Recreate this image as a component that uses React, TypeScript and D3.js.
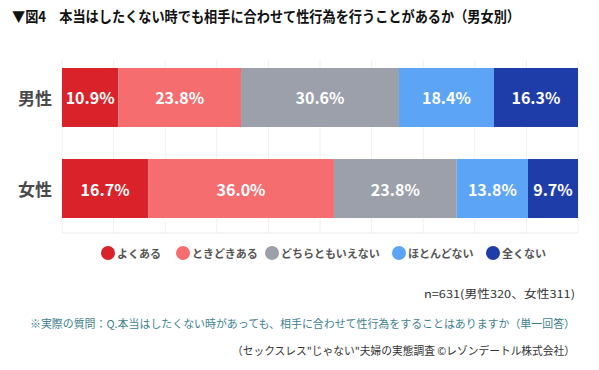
import React from "react";
import * as d3 from "d3";

const categories = ["男性", "女性"];
const seriesNames = ["よくある", "ときどきある", "どちらともいえない", "ほとんどない", "全くない"];
const maleValues = [10.9, 23.8, 30.6, 18.4, 16.3];
const femaleValues = [16.7, 36.0, 23.8, 13.8, 9.7];
const colors = ["#d92229", "#f56d6f", "#9ca0aa", "#5ba4f6", "#1f3da9"];
const gridTicks = [0, 10, 20, 30, 40, 50, 60, 70, 80, 90, 100];

const title = "▼図4　本当はしたくない時でも相手に合わせて性行為を行うことがあるか（男女別）";
const nNote = "n=631(男性320、女性311)";
const qNote = "※実際の質問：Q.本当はしたくない時があっても、相手に合わせて性行為をすることはありますか（単一回答）";
const source = "（セックスレス\"じゃない\"夫婦の実態調査 ©レゾンデートル株式会社）";

const W = 599;
const H = 370;
const font = "'Noto Sans CJK JP', 'Noto Sans', sans-serif";

export default function App() {
  const x = d3.scaleLinear().domain([0, 100]).range([62, 578]);
  const y = d3.scaleBand().domain(categories).range([58.9, 227.1]).paddingInner(0.352).paddingOuter(0.1);
  const values = [maleValues, femaleValues];
  const stacks = values.map((vals) => {
    let acc = 0;
    return vals.map((v, i) => {
      const s = { x0: acc, x1: acc + v, v, i };
      acc += v;
      return s;
    });
  });
  const legendX = [108, 183, 272, 399, 493];
  return (
    <svg width={W} height={H} style={{ position: "absolute", left: 0, top: 0, background: "#fff" }}>
      <rect x={0} y={0} width={W} height={H} fill="#fff" />
      <text x={12} y={22} fontFamily={font} fontWeight={700} fontSize={14.5} fill="#111" textLength={508} lengthAdjust="spacingAndGlyphs">
        {title}
      </text>
      {gridTicks.map((t) => (
        <line key={t} x1={x(t)} x2={x(t)} y1={60} y2={233} stroke="#f0f0f0" strokeWidth={1} />
      ))}
      <line x1={62} x2={578} y1={233} y2={233} stroke="#ececec" strokeWidth={1} />
      {categories.map((c, ci) => (
        <g key={c}>
          <text x={35} y={y(c)! + y.bandwidth() / 2} textAnchor="middle" dominantBaseline="central" fontFamily={font} fontWeight={700} fontSize={17} fill="#4a4a4a">
            {c}
          </text>
          {stacks[ci].map((s) => (
            <g key={s.i}>
              <rect x={x(s.x0)} y={y(c)} width={x(s.x1) - x(s.x0)} height={y.bandwidth()} fill={colors[s.i]} />
              <text x={(x(s.x0) + x(s.x1)) / 2} y={y(c)! + y.bandwidth() / 2} textAnchor="middle" dominantBaseline="central" fontFamily={font} fontWeight={700} fontSize={16} fill="#fff">
                {s.v.toFixed(1) + "%"}
              </text>
            </g>
          ))}
        </g>
      ))}
      {seriesNames.map((n, i) => (
        <g key={n}>
          <circle cx={legendX[i]} cy={253} r={7} fill={colors[i]} />
          <text x={legendX[i] + 9} y={253} dominantBaseline="central" fontFamily={font} fontWeight={700} fontSize={11} fill="#555">
            {n}
          </text>
        </g>
      ))}
      <text x={424} y={293} dominantBaseline="central" fontFamily={font} fontSize={11} fill="#333" textLength={151} lengthAdjust="spacingAndGlyphs">
        {nNote}
      </text>
      <text x={30} y={323} dominantBaseline="central" fontFamily={font} fontSize={11} fill="#3f7f8f" textLength={545} lengthAdjust="spacingAndGlyphs">
        {qNote}
      </text>
      <text x={232} y={350} dominantBaseline="central" fontFamily={font} fontSize={11} fill="#333" textLength={343} lengthAdjust="spacingAndGlyphs">
        {source}
      </text>
    </svg>
  );
}
